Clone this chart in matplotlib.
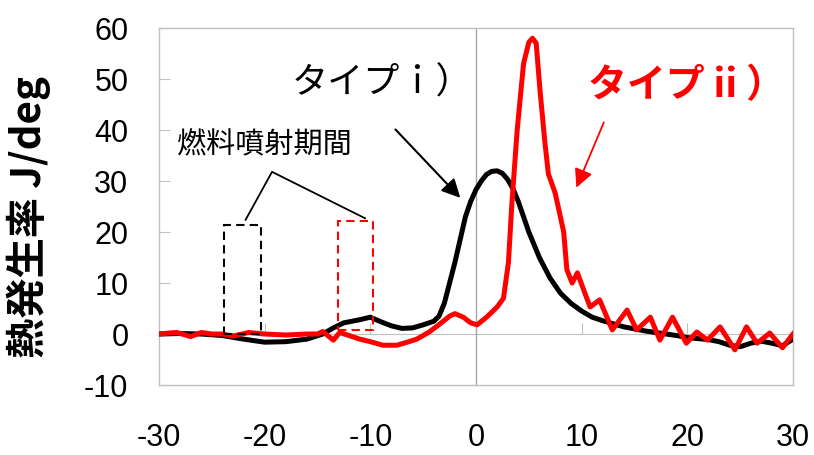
import matplotlib
matplotlib.use("Agg")
import matplotlib.pyplot as plt
from matplotlib.patches import Rectangle

plt.rcParams["axes.unicode_minus"] = False

# crank angle [deg] and heat release rate [J/deg]
angle_i = [-30, -28, -26, -24, -22, -20, -18, -16, -14.5, -13.5, -12.5, -11, -10, -9, -8, -7,
           -6, -5, -4, -3.5, -3, -2.5, -2, -1.5, -1, -0.5, 0, 0.5, 1, 1.5, 2, 2.5, 3, 3.5,
           4, 4.5, 5, 5.5, 6, 7, 8, 9, 10, 11, 12, 13, 14, 15, 16, 17, 18, 19, 20, 21,
           22, 23, 24, 25, 26, 27, 28, 29, 30]
hrr_i = [0, 0.1, 0, -0.3, -1, -1.6, -1.5, -1, 0, 1.2, 2.2, 2.8, 3.3, 2.4, 1.6, 1.1,
         1.2, 1.8, 2.5, 3.5, 6, 10, 14, 18.5, 23, 26, 28.3, 30, 31.3, 31.9, 32, 31.5, 30.3, 28.5,
         26, 23, 20, 17.5, 15, 11, 8, 6, 4.5, 3.3, 2.6, 2, 1.4, 1, 0.6, 0.3, 0, -0.3, -0.7, -0.9,
         -1.1, -1.5, -2.2, -2.5, -1.8, -1.4, -1.8, -2.3, -1]

angle_ii = [-30, -29, -28.3, -27, -26, -25, -24, -23, -21.5, -20, -18, -16, -15, -14.5, -13.5,
            -12.9, -12, -11, -10, -8.8, -7.5, -6.5, -5.6, -4.5, -3.4, -2.5, -2, -1.2, -0.5, 0.1,
            1, 2, 2.6, 3.07, 3.4, 3.9, 4.5, 5.0, 5.35, 5.7, 6.05, 6.5, 6.85, 7.5, 8.3, 8.6, 9.1,
            9.6, 10.2, 10.8, 11.7, 12.9, 14.3, 15.2, 16.5, 17.4, 18.6, 19.9, 20.9, 21.9, 23.1,
            24.5, 25.6, 26.6, 27.8, 29.0, 30]
hrr_ii = [0, 0.2, 0.3, -0.5, 0.3, 0, 0, -0.4, 0.3, 0, -0.2, 0, 0, 0.5, -1.2,
          0.3, -0.3, -1, -1.5, -2.2, -2.2, -1.6, -1, 0.3, 2, 3.5, 4, 3.3, 2.2, 1.8,
          3.3, 5.3, 7, 14, 25.7, 40, 53, 57.2, 58, 57, 48, 38, 31.4, 27.6, 20, 12.6, 10,
          12, 8.6, 5.3, 6.7, 0.8, 4.7, 0.8, 3.3, -1.2, 3.3, -1.8, 0.4, -1.2, 1.4,
          -3.1, 1.4, -1.8, 0.2, -2.7, 0]

# fuel injection periods (start, end, top, bottom)
inj_start = [-23.8, -13.1]
inj_end = [-20.3, -9.7]
inj_top = [21.4, 22.2]
inj_bottom = [0, 0.8]
inj_colors = ["black", "red"]

xticks = [-30, -20, -10, 0, 10, 20, 30]
yticks = [-10, 0, 10, 20, 30, 40, 50, 60]

jp = ["Noto Sans CJK JP", "DejaVu Sans"]
num = ["Liberation Sans", "Noto Sans CJK JP"]
grey = "#c0c0c0"

fig = plt.figure(figsize=(8.14, 4.55), dpi=100)
ax = fig.add_axes([0.1953, 0.1538, 0.7789, 0.7846])

ax.axvline(0, color="#a6a6a6", lw=1, zorder=1)
sec = ax.secondary_xaxis(1 / 7)
sec.set_xticks(xticks)
sec.tick_params(direction="in", length=8, color=grey, labelbottom=False)
for s in sec.spines.values():
    s.set_color(grey)

ax.plot(angle_i, hrr_i, color="black", lw=3.6, solid_joinstyle="round", zorder=3)
ax.plot(angle_ii, hrr_ii, color="#ff0000", lw=3.6, solid_joinstyle="round", zorder=4)

for x0, x1, top, bot, c in zip(inj_start, inj_end, inj_top, inj_bottom, inj_colors):
    ax.add_patch(Rectangle((x0, bot), x1 - x0, top - bot, fill=False, edgecolor=c,
                           lw=1.5, linestyle=(0, (4, 2.5)), zorder=5))

# label lines for the injection boxes
ax.plot([-21.8, -19.3, -10.5], [22.4, 31.8, 22.7], color="black", lw=1.3, zorder=5)
ax.text(-28.3, 37, "燃料噴射期間", family=jp, fontsize=21, va="center", ha="left")

ax.text(-17.4, 49.2, "タイプｉ）", family=jp, fontsize=26, va="center", ha="left")
ax.annotate("", xy=(-1.3, 26.3), xytext=(-7.8, 40.5),
            arrowprops=dict(arrowstyle="-|>", color="black", lw=1.5, mutation_scale=28))

ax.text(10.6, 48.8, "タイプ ii ）", family=jp, fontsize=28, fontweight="bold",
        color="#ff0000", va="center", ha="left")
ax.annotate("", xy=(9.4, 28.2), xytext=(12.2, 42),
            arrowprops=dict(arrowstyle="-|>", color="#ff0000", lw=1.3, mutation_scale=28))

ax.set_xlim(-30, 30)
ax.set_ylim(-10, 60)
ax.set_xticks(xticks)
ax.set_yticks(yticks)
ax.tick_params(axis="x", length=0, pad=27, labelsize=22)
ax.tick_params(axis="y", direction="in", length=8, color=grey, pad=22, labelsize=22)
for lab in ax.get_xticklabels() + ax.get_yticklabels():
    lab.set_family(num)
for s in ax.spines.values():
    s.set_color(grey)
    s.set_linewidth(1)

ax.text(-0.205, 0.47, "熱発生率 J/deg", transform=ax.transAxes, rotation=90,
        family=jp, fontsize=29, fontweight="bold", ha="center", va="center")

fig.savefig("out.png", dpi=100)
